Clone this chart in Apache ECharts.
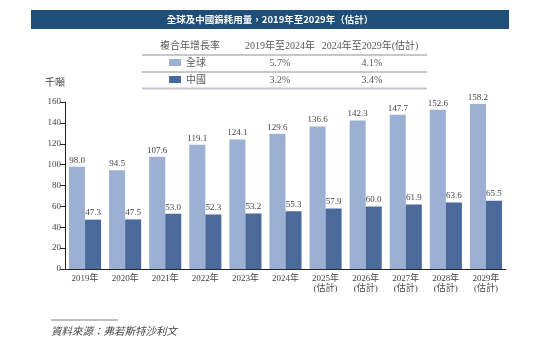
<!DOCTYPE html>
<html><head><meta charset="utf-8">
<script src="https://cdn.jsdelivr.net/npm/echarts@6/dist/echarts.min.js"></script>
<style>html,body{margin:0;padding:0;background:#fff}#c{width:548px;height:349px}</style>
</head><body><div id="c"></div>
<script>
const categories = ['2019年','2020年','2021年','2022年','2023年','2024年','2025年\n(估計)','2026年\n(估計)','2027年\n(估計)','2028年\n(估計)','2029年\n(估計)'];
const globalValues = [98.0,94.5,107.6,119.1,124.1,129.6,136.6,142.3,147.7,152.6,158.2];
const chinaValues = [47.3,47.5,53.0,52.3,53.2,55.3,57.9,60.0,61.9,63.6,65.5];
const seriesNames = ['全球','中國'];
const cagrHeader = ['複合年增長率','2019年至2024年','2024年至2029年(估計)'];
const cagrGlobal = ['5.7%','4.1%'];
const cagrChina = ['3.2%','3.4%'];
const yTicks = [0,160,20];
const title = '全球及中國鎢耗用量，2019年至2029年（估計）';
const unit = '千噸';
const source = '資料來源：弗若斯特沙利文';

const FONT = "'Liberation Serif','Noto Sans CJK TC',serif";
const LIGHT = '#9bb0d3';
const DARK = '#4a6a9b';
const TXT = '#5a5a5a';

const chart = echarts.init(document.getElementById('c'));
chart.setOption({
  animation:false,
  grid:{left:65, top:102, width:441, height:167},
  xAxis:{type:'category', data:categories,
    axisLine:{lineStyle:{color:'#222',width:1}}, axisTick:{show:false},
    axisLabel:{fontFamily:FONT,fontSize:9,color:'#444',lineHeight:10,margin:5}},
  yAxis:{type:'value', min:yTicks[0], max:yTicks[1], interval:yTicks[2],
    splitLine:{show:false},
    axisLine:{show:true,lineStyle:{color:'#222',width:1}},
    axisTick:{show:true,length:5,lineStyle:{color:'#222'}},
    axisLabel:{fontFamily:FONT,fontSize:9,color:'#444',margin:4}},
  series:[
    {name:seriesNames[0], type:'bar', data:globalValues, barGap:'0%', barCategoryGap:'20%',
      itemStyle:{color:LIGHT},
      label:{show:true,position:'top',distance:2,fontFamily:FONT,fontSize:9,color:'#444',formatter:p=>p.value.toFixed(1)}},
    {name:seriesNames[1], type:'bar', data:chinaValues,
      itemStyle:{color:DARK},
      label:{show:true,position:'top',distance:2,fontFamily:FONT,fontSize:9,color:'#444',formatter:p=>p.value.toFixed(1)}}
  ],
  graphic:[
    {type:'rect', shape:{x:31,y:10,width:478,height:19}, style:{fill:'#1f4e79'}},
    {type:'text', x:270, y:19.5, style:{text:title, fill:'#fff', font:"bold 9.5px 'Noto Sans CJK TC','Liberation Serif',serif", align:'center', verticalAlign:'middle'}},
    {type:'text', x:190, y:46, style:{text:cagrHeader[0], fill:TXT, font:"10px "+FONT, align:'center', verticalAlign:'middle'}},
    {type:'text', x:280, y:46, style:{text:cagrHeader[1], fill:TXT, font:"10px "+FONT, align:'center', verticalAlign:'middle'}},
    {type:'text', x:370, y:46, style:{text:cagrHeader[2], fill:TXT, font:"10px "+FONT, align:'center', verticalAlign:'middle'}},
    {type:'line', shape:{x1:142,y1:55,x2:427,y2:55}, style:{stroke:'#8a8f99',lineWidth:1}},
    {type:'rect', shape:{x:169,y:59,width:12,height:7}, style:{fill:LIGHT}},
    {type:'text', x:186, y:63, style:{text:seriesNames[0], fill:TXT, font:"10px "+FONT, align:'left', verticalAlign:'middle'}},
    {type:'text', x:280, y:63, style:{text:cagrGlobal[0], fill:TXT, font:"10px "+FONT, align:'center', verticalAlign:'middle'}},
    {type:'text', x:372, y:63, style:{text:cagrGlobal[1], fill:TXT, font:"10px "+FONT, align:'center', verticalAlign:'middle'}},
    {type:'line', shape:{x1:142,y1:72,x2:427,y2:72}, style:{stroke:'#8a8f99',lineWidth:1}},
    {type:'rect', shape:{x:169,y:76,width:12,height:7}, style:{fill:DARK}},
    {type:'text', x:186, y:80, style:{text:seriesNames[1], fill:TXT, font:"10px "+FONT, align:'left', verticalAlign:'middle'}},
    {type:'text', x:280, y:80, style:{text:cagrChina[0], fill:TXT, font:"10px "+FONT, align:'center', verticalAlign:'middle'}},
    {type:'text', x:372, y:80, style:{text:cagrChina[1], fill:TXT, font:"10px "+FONT, align:'center', verticalAlign:'middle'}},
    {type:'line', shape:{x1:142,y1:88.5,x2:427,y2:88.5}, style:{stroke:'#c3c7cf',lineWidth:2}},
    {type:'text', x:55, y:83, style:{text:unit, fill:'#444', font:"10px "+FONT, align:'center', verticalAlign:'middle'}},
    {type:'line', shape:{x1:51,y1:320,x2:118,y2:320}, style:{stroke:'#c0c0c0',lineWidth:2}},
    {type:'text', x:51, y:332, style:{text:source, fill:'#444', font:"italic 10.5px "+FONT, align:'left', verticalAlign:'middle'}}
  ]
});
</script></body></html>
